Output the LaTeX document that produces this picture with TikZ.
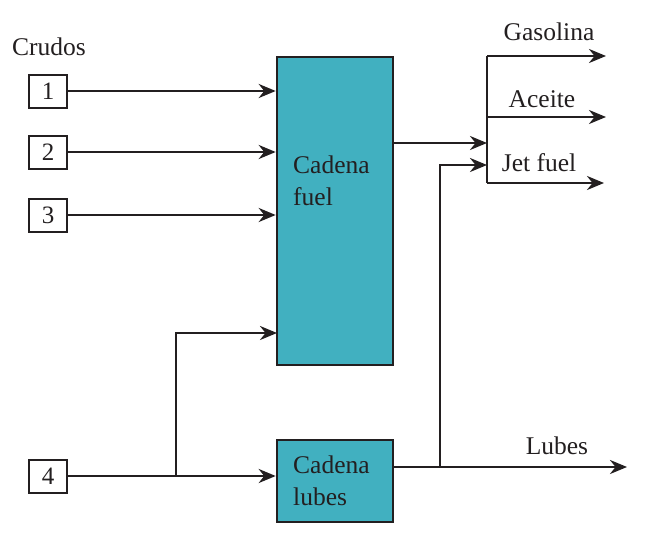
\documentclass[tikz,border=0pt]{standalone}
\usepackage{fontspec}
\setmainfont{Liberation Serif}
\usetikzlibrary{arrows.meta,calc}
\definecolor{teal1}{RGB}{65,176,192}
\definecolor{ink}{RGB}{35,31,32}
\begin{document}
\begin{tikzpicture}[x=1pt,y=-1pt,
  txt/.style={font=\fontsize{25.5}{32}\selectfont, text=ink, inner sep=0pt},
  numbox/.style={draw=ink, line width=2pt, minimum width=38pt, minimum height=33pt, inner sep=0pt, font=\fontsize{25}{30}\selectfont, text=ink},
  proc/.style={draw=ink, fill=teal1, line width=2.6pt, inner sep=0pt},
  flow/.style={draw=ink, line width=2.6pt, -{Stealth[length=17pt,width=14pt]}},
  line/.style={draw=ink, line width=2.6pt}]
\useasboundingbox (0,0) rectangle (646,538);
\node[txt] (crudos) at (49,47) {Crudos};
\node[numbox] (b1) at (48,91) {1};
\node[numbox] (b2) at (48,152) {2};
\node[numbox] (b3) at (48,215) {3};
\node[numbox] (b4) at (48,476) {4};
\node[proc, minimum width=116pt, minimum height=308pt] (fuel) at (335,211) {};
\node[proc, minimum width=116pt, minimum height=82pt] (lubes) at (335,481) {};
\node[txt, align=left, anchor=west] (tfuel) at (293,181) {Cadena\\fuel};
\node[txt, align=left, anchor=west] (tlubes) at (293,481) {Cadena\\lubes};
\node[txt] (gas) at (549,32) {Gasolina};
\node[txt] (ace) at (542,99) {Aceite};
\node[txt] (jet) at (539,163) {Jet fuel};
\node[txt] (lub) at (557,446) {Lubes};
\coordinate (j4) at (176,476);
\coordinate (f4) at (277,333);
\coordinate (fo) at (393,143);
\coordinate (bustop) at (487,56);
\coordinate (busbot) at (487,183);
\coordinate (lo) at (393,467);
\coordinate (lj) at (440,467);
\coordinate (lend) at (627,467);
\coordinate (jin) at (487,165);
\coordinate (gend) at (606,56);
\coordinate (aend) at (606,117);
\coordinate (jend) at (604,183);
\draw[flow] (b1.east) -- (b1.east -| fuel.west);
\draw[flow] (b2.east) -- (b2.east -| fuel.west);
\draw[flow] (b3.east) -- (b3.east -| fuel.west);
\draw[flow] (b4.east) -- (b4.east -| lubes.west);
\draw[flow] (j4) |- (f4);
\draw[flow] (fo) -- (fo -| bustop);
\draw[line] (bustop) -- (busbot);
\draw[flow] (bustop) -- (gend);
\draw[flow] (bustop |- aend) -- (aend);
\draw[flow] (busbot) -- (jend);
\draw[flow] (lo) -- (lend);
\draw[flow] (lj) |- (jin);
\end{tikzpicture}
\end{document}
